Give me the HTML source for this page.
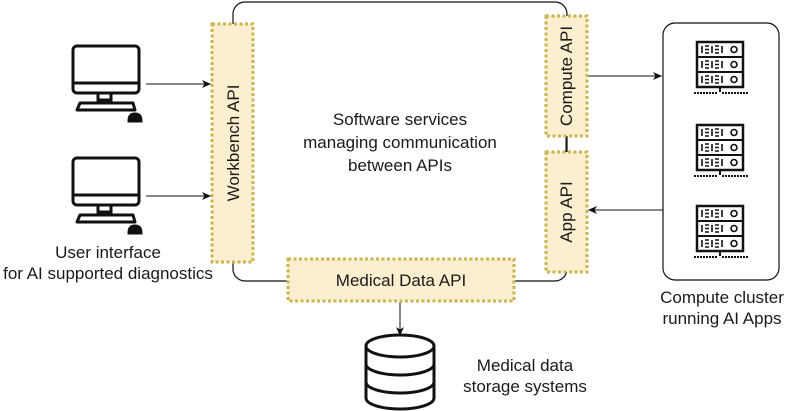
<!DOCTYPE html>
<html><head><style>body{margin:0;background:#fff}svg{display:block}text{font-family:"Liberation Sans",sans-serif;fill:#1a1a1a}</style></head><body>
<svg width="789" height="411" viewBox="0 0 789 411" xmlns="http://www.w3.org/2000/svg">
<defs>
<marker id="a" markerWidth="10" markerHeight="10" refX="9" refY="5" orient="auto" markerUnits="userSpaceOnUse"><path d="M0,1 L9,5 L0,9 L2.5,5 Z" fill="#111"/></marker>
<g id="pc" fill="none" stroke="#111" stroke-width="3">
<rect x="73" y="46" width="66" height="47" rx="4"/>
<line x1="73" y1="83" x2="139" y2="83"/>
<rect x="98" y="93" width="13" height="7"/>
<path d="M80,103 L133,103 L135,110 L77,110 Z" stroke-linejoin="round"/>
<path d="M129,121 Q129,114 135,114 Q141,114 141,121 Z" fill="#111"/>
</g>
<g id="sv" fill="none" stroke="#111">
<rect x="697" y="42" width="46" height="45" stroke-width="2.5"/>
<line x1="697" y1="57" x2="743" y2="57" stroke-width="2"/>
<line x1="697" y1="72" x2="743" y2="72" stroke-width="2"/>
<g stroke-width="1.6">
<path d="M702,46v7M705,46h4M705,49.5h4M705,53h4M712,46v7M715,46h4M715,49.5h4M715,53h4M722,46v7"/>
<path d="M702,61v7M705,61h4M705,64.5h4M705,68h4M712,61v7M715,61h4M715,64.5h4M715,68h4M722,61v7"/>
<path d="M702,76v7M705,76h4M705,79.5h4M705,83h4M712,76v7M715,76h4M715,79.5h4M715,83h4M722,76v7"/>
<circle cx="734" cy="49.5" r="3"/><circle cx="734" cy="64.5" r="3"/><circle cx="734" cy="79.5" r="3"/>
</g>
<line x1="720" y1="87" x2="720" y2="92" stroke-width="2"/>
<line x1="694" y1="93" x2="718" y2="93" stroke-width="2" stroke-dasharray="2 1"/>
<line x1="722" y1="93" x2="748" y2="93" stroke-width="2" stroke-dasharray="2 1"/>
</g>
</defs>
<rect x="233" y="2" width="334" height="279" rx="12" fill="none" stroke="#111" stroke-width="1.2"/>
<rect x="663" y="23" width="116" height="257" rx="12" fill="#fff" stroke="#111" stroke-width="1.2"/>
<use href="#pc"/>
<use href="#pc" y="112"/>
<use href="#sv"/><use href="#sv" y="83"/><use href="#sv" y="164"/>
<line x1="146" y1="84" x2="211" y2="84" stroke="#111" marker-end="url(#a)"/>
<line x1="146" y1="196" x2="211" y2="196" stroke="#111" marker-end="url(#a)"/>
<line x1="587" y1="76" x2="662" y2="76" stroke="#111" marker-end="url(#a)"/>
<line x1="663" y1="210" x2="588" y2="210" stroke="#111" marker-end="url(#a)"/>
<line x1="566" y1="136" x2="566" y2="152" stroke="#111"/>
<line x1="400" y1="302" x2="400" y2="336" stroke="#111" marker-end="url(#a)"/>
<g fill="#fcefcf" stroke="#c9b44f" stroke-width="3" stroke-dasharray="3 2.5">
<rect x="212" y="24" width="41" height="238"/>
<rect x="546" y="16" width="41" height="120"/>
<rect x="546" y="152" width="41" height="120"/>
<rect x="288" y="259" width="226" height="42"/>
</g>
<g fill="#fff" stroke="#111" stroke-width="3">
<path d="M366,346 L366,398 A34,11 0 0 0 434,398 L434,346"/>
<ellipse cx="400" cy="346" rx="34" ry="11"/>
<path d="M366,364 A34,11 0 0 0 434,364 M366,382 A34,11 0 0 0 434,382" fill="none"/>
</g>
<g font-size="17" text-anchor="middle">
<text transform="translate(239,143) rotate(-90)">Workbench API</text>
<text transform="translate(572,76) rotate(-90)">Compute API</text>
<text transform="translate(572,212) rotate(-90)">App API</text>
<text x="401" y="286">Medical Data API</text>
<text x="400" y="125">Software services</text>
<text x="400" y="148">managing communication</text>
<text x="400" y="171">between APIs</text>
<text x="108" y="258">User interface</text>
<text x="108" y="279">for AI supported diagnostics</text>
<text x="722" y="303">Compute cluster</text>
<text x="722" y="324">running AI Apps</text>
<text x="525" y="371">Medical data</text>
<text x="525" y="392">storage systems</text>
</g>
</svg>
</body></html>
